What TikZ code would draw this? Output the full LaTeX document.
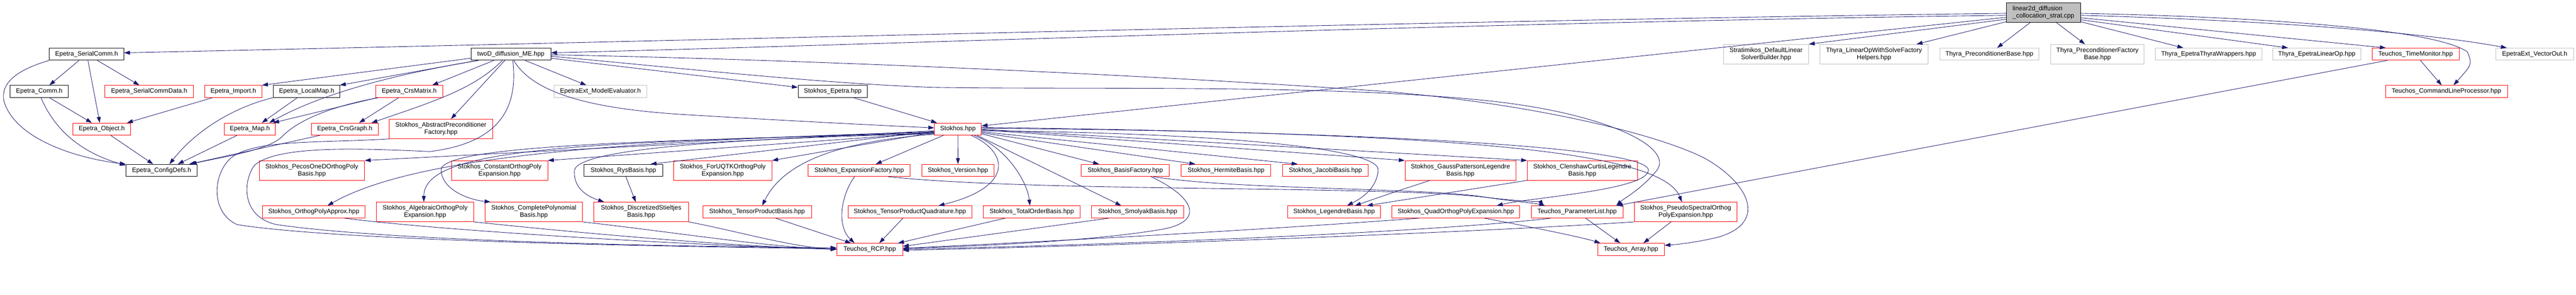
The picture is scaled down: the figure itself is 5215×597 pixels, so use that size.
\documentclass[tikz,border=0pt]{standalone}
\usepackage{fontspec}
\setmainfont{Liberation Sans}
\usetikzlibrary{arrows.meta}
\definecolor{edgeblue}{RGB}{25,25,112}
\definecolor{boxred}{RGB}{255,0,0}
\definecolor{boxgray}{RGB}{191,191,191}
\definecolor{rootfill}{RGB}{191,191,191}
\begin{document}
\begin{tikzpicture}[x=1pt,y=-1pt,
 box/.style={draw, line width=0.9pt, minimum height=24.5pt, inner sep=0pt, font=\fontsize{12.9}{15}\selectfont, align=center},
 redb/.style={box, draw=boxred},
 blkb/.style={box, draw=black},
 gryb/.style={box, draw=boxgray},
 two/.style={minimum height=39.5pt},
 dep/.style={draw=edgeblue, line width=0.9pt, -{Triangle[length=12pt,width=8pt]}},
]
\fill[white] (0,0) rectangle (5215,597);
\useasboundingbox (0,0) rectangle (5215,597);

% nodes
\node[blkb, fill=rootfill, two, minimum width=149.7pt, align=left] (root) at (4136.8,25.5) {linear2d\_diffusion\\\_collocation\_strat.cpp};
\node[blkb, minimum width=150.7pt] (serialcomm) at (175.3,109.7) {Epetra\_SerialComm.h};
\node[blkb, minimum width=117.6pt] (comm) at (79.5,185.3) {Epetra\_Comm.h};
\node[redb, minimum width=179.4pt] (serialcommdata) at (302,185.3) {Epetra\_SerialCommData.h};
\node[redb, minimum width=116.6pt] (object) at (206,261.5) {Epetra\_Object.h};
\node[blkb, minimum width=144.3pt] (configdefs) at (327.2,345.2) {Epetra\_ConfigDefs.h};
\node[redb, minimum width=115pt] (import) at (472.5,185.3) {Epetra\_Import.h};
\node[blkb, minimum width=135pt] (localmap) at (620.8,185.3) {Epetra\_LocalMap.h};
\node[redb, minimum width=135pt] (crsmatrix) at (828.5,185.3) {Epetra\_CrsMatrix.h};
\node[redb, minimum width=103pt] (map) at (505.8,261.5) {Epetra\_Map.h};
\node[redb, minimum width=135.4pt] (crsgraph) at (698,261.5) {Epetra\_CrsGraph.h};
\node[redb, two, minimum width=209.6pt] (absprec) at (892.5,261.2) {Stokhos\_AbstractPreconditioner\\Factory.hpp};
\node[redb, two, minimum width=213.3pt] (pecos) at (631.3,345.3) {Stokhos\_PecosOneDOrthogPoly\\Basis.hpp};
\node[redb, minimum width=208pt] (opa) at (635.3,429.3) {Stokhos\_OrthogPolyApprox.hpp};
\node[redb, two, minimum width=196.4pt] (algebraic) at (860.5,429.3) {Stokhos\_AlgebraicOrthogPoly\\Expansion.hpp};
\node[blkb, minimum width=161.7pt] (twod) at (1034.2,109.7) {twoD\_diffusion\_ME.hpp};
\node[gryb, minimum width=187.6pt] (modeleval) at (1215.5,185.3) {EpetraExt\_ModelEvaluator.h};
\node[redb, two, minimum width=194.7pt] (constant) at (1011.3,345.3) {Stokhos\_ConstantOrthogPoly\\Expansion.hpp};
\node[blkb, minimum width=159.4pt] (rys) at (1262,345.2) {Stokhos\_RysBasis.hpp};
\node[redb, two, minimum width=197.3pt] (complete) at (1080.7,429.3) {Stokhos\_CompletePolynomial\\Basis.hpp};
\node[redb, two, minimum width=191.4pt] (discr) at (1298,429.3) {Stokhos\_DiscretizedStieltjes\\Basis.hpp};
\node[blkb, minimum width=140.3pt] (stepetra) at (1685.8,185.3) {Stokhos\_Epetra.hpp};
\node[redb, two, minimum width=199pt] (foruqtk) at (1463.2,345.3) {Stokhos\_ForUQTKOrthogPoly\\Expansion.hpp};
\node[redb, minimum width=206.7pt] (expfactory) at (1739.3,345.2) {Stokhos\_ExpansionFactory.hpp};
\node[redb, minimum width=220pt] (tpbasis) at (1532.7,429.3) {Stokhos\_TensorProductBasis.hpp};
\node[redb, minimum width=250.6pt] (tpquad) at (1842,429.3) {Stokhos\_TensorProductQuadrature.hpp};
\node[redb, minimum width=133.3pt] (rcp) at (1760.7,505.2) {Teuchos\_RCP.hpp};
\node[redb, minimum width=95pt] (stokhos) at (1939.2,261.5) {Stokhos.hpp};
\node[redb, minimum width=146.7pt] (version) at (1939.3,345.2) {Stokhos\_Version.hpp};
\node[redb, minimum width=196pt] (totalorder) at (2088.7,429.3) {Stokhos\_TotalOrderBasis.hpp};
\node[redb, minimum width=178.6pt] (basisfactory) at (2278,345.2) {Stokhos\_BasisFactory.hpp};
\node[redb, minimum width=181.4pt] (hermite) at (2482,345.2) {Stokhos\_HermiteBasis.hpp};
\node[redb, minimum width=186.7pt] (smolyak) at (2303.3,429.3) {Stokhos\_SmolyakBasis.hpp};
\node[redb, minimum width=173.3pt] (jacobi) at (2683.3,345.2) {Stokhos\_JacobiBasis.hpp};
\node[redb, two, minimum width=224.4pt] (gausspat) at (2956.5,345.3) {Stokhos\_GaussPattersonLegendre\\Basis.hpp};
\node[redb, minimum width=188pt] (legendre) at (2700.7,429.3) {Stokhos\_LegendreBasis.hpp};
\node[redb, minimum width=259pt] (quadopoly) at (2947.2,429.3) {Stokhos\_QuadOrthogPolyExpansion.hpp};
\node[redb, two, minimum width=222.7pt] (clenshaw) at (3203.3,345.3) {Stokhos\_ClenshawCurtisLegendre\\Basis.hpp};
\node[redb, minimum width=185.3pt] (paramlist) at (3192.7,429.3) {Teuchos\_ParameterList.hpp};
\node[redb, two, minimum width=208pt] (pseudo) at (3412.7,429.3) {Stokhos\_PseudoSpectralOrthog\\PolyExpansion.hpp};
\node[redb, minimum width=135pt] (array) at (3301.8,505.2) {Teuchos\_Array.hpp};
\node[gryb, two, minimum width=172pt] (stratimikos) at (3575.3,109.7) {Stratimikos\_DefaultLinear\\SolverBuilder.hpp};
\node[gryb, two, minimum width=219pt] (thyralows) at (3793.8,109.7) {Thyra\_LinearOpWithSolveFactory\\Helpers.hpp};
\node[gryb, minimum width=200pt] (precbase) at (4027.3,109.7) {Thyra\_PreconditionerBase.hpp};
\node[gryb, two, minimum width=189pt] (precfact) at (4246.2,109.7) {Thyra\_PreconditionerFactory\\Base.hpp};
\node[gryb, minimum width=215pt] (epthyrawrap) at (4471.2,109.7) {Thyra\_EpetraThyraWrappers.hpp};
\node[gryb, minimum width=177.7pt] (eplinop) at (4690.2,109.7) {Thyra\_EpetraLinearOp.hpp};
\node[redb, minimum width=176.3pt] (timemon) at (4890.2,109.7) {Teuchos\_TimeMonitor.hpp};
\node[gryb, minimum width=158pt] (vectorout) at (5131.3,109.7) {EpetraExt\_VectorOut.h};
\node[redb, minimum width=247.3pt] (cmdline) at (4952.7,185.3) {Teuchos\_CommandLineProcessor.hpp};

% root edges
\draw[dep] (root.west |- 0,27) .. controls (3000,40) and (1500,80) .. (serialcomm.east |- 0,107);
\draw[dep] (root.west |- 0,31) .. controls (3000,45) and (1800,90) .. (twod.east |- 0,107);
\draw[dep] (root.west |- 0,35) -- (stokhos.east |- 0,255);
\draw[dep] (root.west |- 0,39) -- (stratimikos.north east);
\draw[dep] (root.west |- 0,44) -- (thyralows.north -| 3880,0);
\draw[dep] (root.south -| 4110,0) -- (precbase.north -| 4043,0);
\draw[dep] (root.south -| 4163,0) -- (precfact.north -| 4221,0);
\draw[dep] (root.east |- 0,44) -- (epthyrawrap.north -| 4420,0);
\draw[dep] (root.east |- 0,40) -- (eplinop.north -| 4632,0);
\draw[dep] (root.east |- 0,36) -- (timemon.north -| 4830,0);
\draw[dep] (root.east |- 0,31) .. controls (4600,42) and (4900,65) .. (vectorout.north -| 5075,0);
\draw[dep] (root.east |- 0,27) .. controls (4600,35) and (4930,60) .. (4995,105) .. controls (5005,130) .. (cmdline.north -| 4967,0);

% twoD edges
\draw[dep] (twod.west |- 0,118) -- (import.north east);
\draw[dep] (twod.south -| 967,0) -- (localmap.north -| 688,0);
\draw[dep] (twod.south -| 969,0) .. controls (800,150) and (650,190) .. (map.north -| 545,0);
\draw[dep] (twod.south -| 1000,0) -- (crsmatrix.north -| 875,0);
\draw[dep] (twod.south -| 1017,0) .. controls (960,180) and (880,205) .. (crsgraph.north -| 752,0);
\draw[dep] (twod.south -| 1022,0) -- (absprec.north -| 913,0);
\draw[dep] (twod.south -| 1038,0) .. controls (1050,220) and (1010,290) .. (870,307) .. controls (720,300) and (560,295) .. (515,335) .. controls (490,370) and (490,440) .. (560,455) .. controls (800,490) and (1400,500) .. (rcp.west |- 0,502);
\draw[dep] (twod.south -| 1040,0) .. controls (1080,190) and (1200,222) .. (1400,233) .. controls (1600,245) and (1800,255) .. (stokhos.west |- 0,259);
\draw[dep] (twod.south -| 1063,0) -- (modeleval.north -| 1187,0);
\draw[dep] (twod.east |- 0,118) -- (stepetra.west |- 0,177);
\draw[dep] (twod.east |- 0,114) .. controls (1400,140) and (1650,168) .. (1887,177) .. controls (2200,182) and (2700,170) .. (3020,205) .. controls (3250,230) and (3400,300) .. (3350,350) .. controls (3320,385) and (3290,400) .. (paramlist.north -| 3272,0);
\draw[dep] (twod.east |- 0,111) .. controls (1600,120) and (2300,150) .. (2800,185) .. controls (3100,210) and (3350,270) .. (3450,320) .. controls (3540,370) and (3580,450) .. (3480,480) .. controls (3440,490) and (3400,495) .. (array.east |- 0,497);

% Epetra edges
\draw[dep] (crsmatrix.south -| 763,0) -- (map.north -| 553,0);
\draw[dep] (crsmatrix.south -| 766,0) .. controls (670,215) and (600,245) .. (570,278) .. controls (540,305) and (450,318) .. (configdefs.north -| 386,0);
\draw[dep] (crsmatrix.south -| 807,0) -- (crsgraph.north -| 727,0);
\draw[dep] (localmap.south -| 602,0) -- (map.north -| 530,0);
\draw[dep] (localmap.south west) .. controls (480,215) and (400,260) .. (configdefs.north -| 343,0);
\draw[dep] (import.south -| 430,0) -- (object.north -| 257,0);
\draw[dep] (map.south -| 480,0) -- (configdefs.north -| 360,0);
\draw[dep] (crsgraph.south -| 648,0) -- (configdefs.north -| 383,0);
\draw[dep] (serialcomm.south -| 160,0) -- (comm.north -| 100,0);
\draw[dep] (serialcomm.south -| 178,0) -- (object.north -| 202,0);
\draw[dep] (serialcomm.south -| 197,0) -- (serialcommdata.north -| 282,0);
\draw[dep] (serialcomm.south west) .. controls (40,140) and (0,165) .. (8,205) .. controls (30,280) and (150,320) .. (configdefs.north west);
\draw[dep] (comm.south -| 83,0) .. controls (105,250) and (150,305) .. (configdefs.west |- 0,335);
\draw[dep] (comm.south -| 100,0) -- (object.north -| 186,0);
\draw[dep] (object.south -| 224,0) -- (configdefs.north -| 310,0);
\draw[dep] (absprec.south west) .. controls (650,290) and (520,282) .. (470,318) .. controls (430,350) and (425,430) .. (480,455) .. controls (700,490) and (1400,500) .. (rcp.west |- 0,504);
\draw[dep] (stepetra.south -| 1728,0) -- (stokhos.north -| 1897,0);

% Stokhos.hpp edges
\draw[dep] (stokhos.west |- 0,265) -- (pecos.north east);
\draw[dep] (stokhos.west |- 0,267) .. controls (1300,285) and (850,310) .. (opa.north -| 663,0);
\draw[dep] (stokhos.west |- 0,268) .. controls (1200,290) and (858,295) .. (algebraic.north -| 858,0);
\draw[dep] (stokhos.west |- 0,269) -- (constant.north east);
\draw[dep] (stokhos.west |- 0,270) .. controls (1300,285) and (890,295) .. (893,345) .. controls (895,385) and (950,405) .. (complete.north -| 993,0);
\draw[dep] (stokhos.west |- 0,271) .. controls (1500,280) and (1170,300) .. (1163,345) .. controls (1160,385) and (1195,400) .. (discr.north -| 1223,0);
\draw[dep] (stokhos.west |- 0,266) -- (rys.north -| 1317,0);
\draw[dep] (stokhos.west |- 0,268) -- (foruqtk.north east);
\draw[dep] (stokhos.west |- 0,272) .. controls (1720,285) and (1590,320) .. (tpbasis.north -| 1543,0);
\draw[dep] (stokhos.south -| 1910,0) -- (expfactory.north -| 1773,0);
\draw[dep] (stokhos.south) -- (version.north);
\draw[dep] (stokhos.south -| 1966,0) .. controls (2045,310) and (2050,380) .. (tpquad.north -| 1900,0);
\draw[dep] (stokhos.south -| 1972,0) .. controls (2040,300) and (2080,370) .. (totalorder.north -| 2085,0);
\draw[dep] (stokhos.east |- 0,271) -- (basisfactory.north -| 2225,0);
\draw[dep] (stokhos.south -| 1978,0) -- (smolyak.north -| 2270,0);
\draw[dep] (stokhos.east |- 0,269) -- (hermite.north -| 2420,0);
\draw[dep] (stokhos.east |- 0,267) -- (jacobi.north -| 2627,0);
\draw[dep] (stokhos.east |- 0,265) .. controls (2400,268) and (2795,295) .. (2790,345) .. controls (2787,385) and (2750,405) .. (legendre.north -| 2727,0);
\draw[dep] (stokhos.east |- 0,263) -- (gausspat.north west);
\draw[dep] (stokhos.east |- 0,262) -- (clenshaw.north west);
\draw[dep] (stokhos.east |- 0,260) .. controls (2700,265) and (3340,295) .. (3337,345) .. controls (3335,385) and (3100,400) .. (quadopoly.north -| 3030,0);
\draw[dep] (stokhos.east |- 0,258) .. controls (2900,270) and (3360,300) .. (pseudo.north -| 3405,0);

% second level
\draw[dep] (opa.south -| 697,0) .. controls (900,468) and (1400,497) .. (rcp.west |- 0,505);
\draw[dep] (algebraic.south east) .. controls (1200,475) and (1500,500) .. (rcp.west |- 0,505);
\draw[dep] (complete.south east) .. controls (1400,475) and (1550,500) .. (rcp.west |- 0,505);
\draw[dep] (discr.south east) .. controls (1500,470) and (1600,500) .. (rcp.west |- 0,505);
\draw[dep] (tpbasis.south -| 1570,0) -- (rcp.north -| 1723,0);
\draw[dep] (tpquad.south -| 1828,0) -- (rcp.north -| 1780,0);
\draw[dep] (totalorder.south -| 2035,0) -- (rcp.north -| 1818,0);
\draw[dep] (expfactory.south -| 1730,0) .. controls (1700,400) and (1695,460) .. (rcp.north -| 1730,0);
\draw[dep] (expfactory.south -| 1798,0) .. controls (2100,390) and (2800,375) .. (3010,400) .. controls (3080,408) and (3120,410) .. (paramlist.north -| 3125,0);
\draw[dep] (basisfactory.south -| 2330,0) .. controls (2420,400) and (2440,450) .. (2350,465) .. controls (2200,490) and (1950,500) .. (rcp.east |- 0,503);
\draw[dep] (basisfactory.south -| 2335,0) .. controls (2500,385) and (2900,380) .. (3010,400) .. controls (3080,410) and (3110,412) .. (paramlist.north -| 3128,0);
\draw[dep] (smolyak.south -| 2245,0) -- (rcp.east |- 0,499);
\draw[dep] (quadopoly.south -| 2873,0) .. controls (2500,470) and (2000,495) .. (rcp.east |- 0,503);
\draw[dep] (paramlist.south -| 3140,0) .. controls (2900,470) and (2300,495) .. (rcp.east |- 0,505);
\draw[dep] (pseudo.south west) .. controls (3000,470) and (2300,497) .. (rcp.east |- 0,507);
\draw[dep] (quadopoly.south -| 3005,0) .. controls (3100,460) and (3200,480) .. (array.north -| 3240,0);
\draw[dep] (paramlist.south -| 3210,0) -- (array.north -| 3280,0);
\draw[dep] (pseudo.south -| 3383,0) -- (array.north -| 3327,0);
\draw[dep] (gausspat.south -| 2895,0) .. controls (2820,390) .. (legendre.north -| 2743,0);
\draw[dep] (clenshaw.south west) -- (legendre.north -| 2767,0);
\draw[dep] (rys.south -| 1267,0) -- (discr.north -| 1287,0);
\draw[dep] (timemon.south -| 4833,0) -- (paramlist.north -| 3273,0);
\draw[dep] (timemon.south -| 4900,0) -- (cmdline.north -| 4943,0);
\end{tikzpicture}
\end{document}
